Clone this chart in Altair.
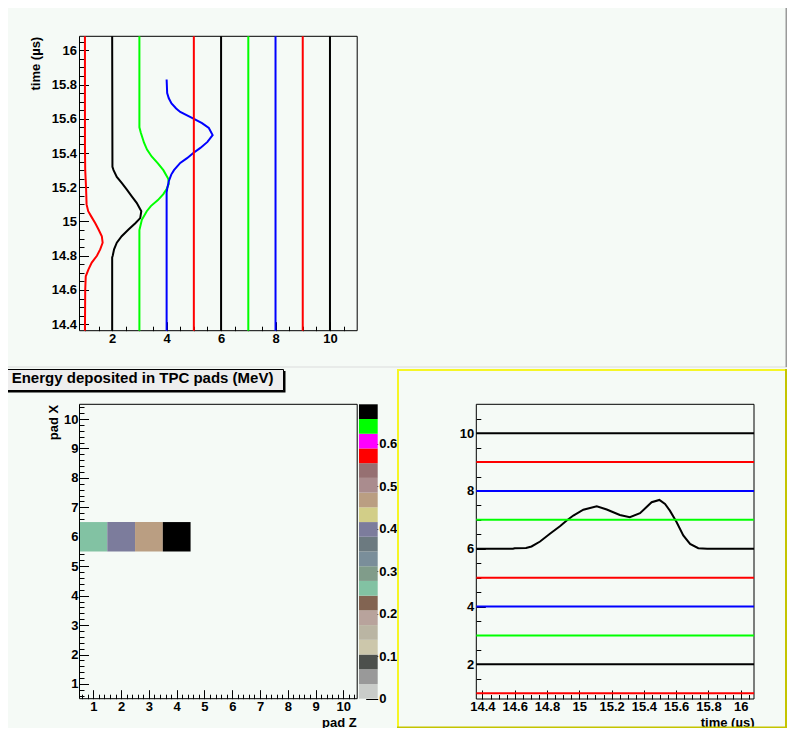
import altair as alt
import pandas as pd

W, H = 779, 720          # drawing size; with the 8 px page margin it fills the window exactly
M = 8                    # reference pixel -> chart pixel shift
FONT = "Liberation Sans"
BG = "#f5faf6"
FS = 13

# ---------------- values ----------------
PADS = [1, 2, 3, 4, 5, 6, 7, 8, 9, 10]
PAD_COLORS = ["#ff0000", "#000000", "#00ff00", "#0000ff", "#ff0000",
              "#000000", "#00ff00", "#0000ff", "#ff0000", "#000000"]
T_LIMITS = [14.362, 16.082]
PAD_LIMITS = [0.8, 11.0]

# upper panel: pad signals (time, pad + amplitude)
P1_T = [14.362, 14.60, 14.68, 14.72, 14.76, 14.80, 14.837, 14.876, 14.914, 14.953,
        14.99, 15.03, 15.06, 15.10, 15.20, 15.30, 15.45, 16.082]
P1_V = [1.0, 1.01, 1.03, 1.13, 1.25, 1.44, 1.56, 1.65, 1.62, 1.5,
        1.38, 1.23, 1.12, 1.06, 1.04, 1.01, 1.0, 1.0]
P2_T = [14.362, 14.79, 14.80, 14.837, 14.876, 14.914, 14.953, 14.99, 15.02, 15.06,
        15.109, 15.147, 15.186, 15.225, 15.26, 15.30, 15.32, 16.082]
P2_V = [2.0, 2.0, 2.02, 2.07, 2.17, 2.35, 2.6, 2.85, 3.03, 3.07,
        2.9, 2.72, 2.54, 2.35, 2.17, 2.05, 2.01, 2.0]
P3_T = [14.362, 14.95, 15.01, 15.06, 15.09, 15.125, 15.16, 15.19, 15.22, 15.25,
        15.30, 15.34, 15.38, 15.42, 15.46, 15.52, 15.55, 16.082]
P3_V = [3.0, 3.0, 3.09, 3.27, 3.42, 3.68, 3.88, 4.0, 4.08, 4.06,
        3.88, 3.68, 3.45, 3.28, 3.17, 3.05, 3.0, 3.0]
P4_T = [14.362, 15.17, 15.19, 15.235, 15.274, 15.30, 15.342, 15.37, 15.40, 15.43,
        15.465, 15.505, 15.546, 15.575, 15.604, 15.64, 15.66, 15.69, 15.72, 15.75, 15.83]
P4_V = [4.0, 4.0, 4.02, 4.08, 4.17, 4.27, 4.5, 4.75, 4.98, 5.24,
        5.5, 5.69, 5.55, 5.3, 4.95, 4.5, 4.35, 4.18, 4.08, 4.02, 4.0]

# lower right panel: row 6 signal (time, pad + amplitude)
R6_T = [14.362, 14.589, 14.60, 14.670, 14.704, 14.757, 14.818, 14.880, 14.922, 14.963,
        15.025, 15.108, 15.170, 15.251, 15.313, 15.376, 15.448, 15.496, 15.531, 15.561,
        15.603, 15.644, 15.686, 15.737, 15.792, 16.082]
R6_V = [6.0, 6.0, 6.02, 6.03, 6.08, 6.25, 6.52, 6.78, 6.98, 7.15,
        7.35, 7.47, 7.36, 7.17, 7.09, 7.23, 7.61, 7.69, 7.55, 7.32,
        6.92, 6.46, 6.17, 6.02, 6.0, 6.0]

# energy map
HM_PADZ = [1, 2, 3, 4]
HM_PADX = [6, 6, 6, 6]
HM_E = [0.26, 0.40, 0.47, 0.693]
Z_MAX = 0.693
PALETTE = ["#c9ccc9", "#999999", "#4c504c", "#ccc7ab", "#bab5a3", "#b8a39c", "#826452",
           "#82c2a3", "#809c8a", "#7a8e9a", "#6c7a80", "#7c7c9c", "#d2ce88", "#ba9e82",
           "#aa8c8e", "#967072", "#ff0000", "#ff00ff", "#00ff00", "#000000"]

# axis tick values
T_MAJOR = [14.4, 14.6, 14.8, 15.0, 15.2, 15.4, 15.6, 15.8, 16.0]
T_MINOR = [round(14.4 + 0.05 * k, 2) for k in range(34) if k % 4]
PAD_MAJOR = [2, 4, 6, 8, 10]
PAD_MINOR = [1 + 0.5 * k for k in range(20) if (1 + 0.5 * k) not in PAD_MAJOR]
HM_MAJOR = [1, 2, 3, 4, 5, 6, 7, 8, 9, 10]
HM_MINOR = [round(0.6 + 0.2 * k, 1) for k in range(50) if k % 5 != 2]
CB_TICKS = [0, 0.1, 0.2, 0.3, 0.4, 0.5, 0.6]

# ---------------- layout (reference pixels) ----------------
A_X0, A_X1, A_YT, A_YB = 79.5, 357.2, 36.3, 330.7
B_X0, B_X1, B_YT, B_YB = 79.5, 357.2, 404.3, 698.7
CB_X0, CB_X1 = 359.0, 377.7
C_X0, C_X1, C_YT, C_YB = 476.3, 754.0, 404.3, 699.0


def sx(x0, x1, dom):
    return alt.Scale(domain=dom, range=[x0 - M, x1 - M], nice=False, zero=False)


def sy(yb, yt, dom):
    return alt.Scale(domain=dom, range=[yb - M, yt - M], nice=False, zero=False)


LBL = dict(labelFont=FONT, labelFontSize=FS, labelFontWeight="bold", labelColor="black",
           labelFlush=False, labelOverlap=False, format="~f")
TTL = dict(titleFont=FONT, titleFontSize=FS, titleFontWeight="bold", titleColor="black")


def left_axis(xref, values, tick, labels, title=None, tx=0, ty=0, gap=2.5):
    kw = dict(orient="right", offset=(xref - M) - W, values=values, tickSize=tick,
              tickColor="black", tickWidth=1, domain=False, grid=False, labels=labels)
    if labels:
        kw.update(LBL, labelAlign="right", labelBaseline="middle", labelPadding=-(tick + gap))
    if title:
        kw.update(TTL, title=title, titleAngle=270, titleAlign="right",
                  titleBaseline="middle", titleX=tx, titleY=ty)
    else:
        kw["title"] = None
    return alt.Axis(**kw)


def bottom_axis(yref, values, tick, labels, title=None, tx=0, ty=0, base=12):
    kw = dict(orient="top", offset=-(yref - M), values=values, tickSize=tick,
              tickColor="black", tickWidth=1, domain=False, grid=False, labels=labels)
    if labels:
        # label baseline sits `base` px below the frame edge
        kw.update(LBL, labelAlign="center", labelBaseline="alphabetic",
                  labelPadding=-(tick + base))
    if title:
        kw.update(TTL, title=title, titleAngle=0, titleAlign="right",
                  titleBaseline="alphabetic", titleX=tx, titleY=ty)
    else:
        kw["title"] = None
    return alt.Axis(**kw)


# ---------------- tables ----------------
rows_a = []
sig = {1: (P1_T, P1_V), 2: (P2_T, P2_V), 3: (P3_T, P3_V), 4: (P4_T, P4_V)}
for p, c in zip(PADS, PAD_COLORS):
    ts, vs = sig.get(p, (T_LIMITS, [p, p]))
    for i, (t, v) in enumerate(zip(ts, vs)):
        rows_a.append(dict(pad=p, i=i, t=t, v=v, c=c))
df_a = pd.DataFrame(rows_a)

rows_c = []
for p, c in zip(PADS, PAD_COLORS):
    ts, vs = (R6_T, R6_V) if p == 6 else (T_LIMITS, [p, p])
    for i, (t, v) in enumerate(zip(ts, vs)):
        rows_c.append(dict(pad=p, i=i, t=t, v=v, c=c))
df_c = pd.DataFrame(rows_c)

df_hm = pd.DataFrame(dict(z=HM_PADZ, x=HM_PADX, e=HM_E))
df_hm["z0"] = df_hm.z - 0.5
df_hm["z1"] = df_hm.z + 0.5
df_hm["x0"] = df_hm.x - 0.5
df_hm["x1"] = df_hm.x + 0.5

n = len(PALETTE)
df_cb = pd.DataFrame(dict(lo=[Z_MAX * k / n for k in range(n)],
                          hi=[Z_MAX * (k + 1) / n for k in range(n)]))
df_cb["mid"] = (df_cb.lo + df_cb.hi) / 2
df_cb["c0"] = 0
df_cb["c1"] = 1

frame_a = pd.DataFrame(dict(x0=[PAD_LIMITS[0]], x1=[PAD_LIMITS[1]], y0=[T_LIMITS[0]], y1=[T_LIMITS[1]]))
frame_b = pd.DataFrame(dict(x0=[0.5], x1=[10.5], y0=[0.5], y1=[10.5]))
frame_c = pd.DataFrame(dict(x0=[T_LIMITS[0]], x1=[T_LIMITS[1]], y0=[PAD_LIMITS[0]], y1=[PAD_LIMITS[1]]))

one = pd.DataFrame(dict(k=[0]))

# ---------------- scales ----------------
A_XS = sx(A_X0, A_X1, PAD_LIMITS)
A_YS = sy(A_YB, A_YT, T_LIMITS)
B_XS = sx(B_X0, B_X1, [0.5, 10.5])
B_YS = sy(B_YB, B_YT, [0.5, 10.5])
CB_XS = sx(CB_X0, CB_X1, [0, 1])
CB_YS = sy(B_YB, B_YT, [0, Z_MAX])
C_XS = sx(C_X0, C_X1, T_LIMITS)
C_YS = sy(C_YB, C_YT, PAD_LIMITS)
COL = alt.Scale(type="quantize", domain=[0, Z_MAX], range=PALETTE)


def box(x0, x1, y0, y1, **mk):
    return alt.Chart(one).mark_rect(**mk).encode(
        x=alt.value(x0 - M), x2=alt.value(x1 - M), y=alt.value(y0 - M), y2=alt.value(y1 - M))


RIGHT = W + M      # last visible reference column
BOTTOM = H + M     # last visible reference row

layers = []
# pad borders
layers.append(box(0, RIGHT, 366.5, 367.5, color="#dcdcdc"))
layers.append(box(RIGHT - 1.5, RIGHT, 0, 367, color="#9a9a9a"))
# selected pad (yellow bevel)
layers.append(box(397, RIGHT, 369, 371, color="#f6f626"))
layers.append(box(397, 399, 369, BOTTOM, color="#f6f626"))
layers.append(box(RIGHT - 2, RIGHT, 369, BOTTOM, color="#c4c400"))
layers.append(box(397, RIGHT, BOTTOM - 1.5, BOTTOM, color="#c4c400"))
# title box
layers.append(box(5, 285.5, 371, 392.5, color="#000000"))
layers.append(box(3.5, 283.5, 369.5, 390.5, fill="#eeeeee", stroke="#000000", strokeWidth=1))
layers.append(alt.Chart(one).mark_text(
    text="Energy deposited in TPC pads (MeV)", font=FONT, fontSize=15, fontWeight="bold",
    align="left", baseline="alphabetic", color="black").encode(
    x=alt.value(11.7 - M), y=alt.value(382.5 - M)))

FRAME = dict(fillOpacity=0, stroke="black", strokeWidth=1)

# ---- panel A: pad signals vs time ----
layers.append(alt.Chart(frame_a).mark_rect(**FRAME).encode(
    x=alt.X("x0:Q", scale=A_XS, axis=bottom_axis(A_YB, PAD_MINOR, 4.5, False)), x2="x1:Q",
    y=alt.Y("y0:Q", scale=A_YS, axis=left_axis(A_X0, T_MINOR, 4.5, False)), y2="y1:Q"))
layers.append(alt.Chart(df_a).mark_line(strokeWidth=2).encode(
    x=alt.X("v:Q", scale=A_XS, axis=bottom_axis(A_YB, PAD_MAJOR, 9, True, base=11.6)),
    y=alt.Y("t:Q", scale=A_YS, axis=left_axis(A_X0, T_MAJOR, 9, True, "time (µs)",
                                               35 - A_X0, A_YT - M, gap=3)),
    color=alt.Color("c:N", scale=None), detail="pad:N", order="i:Q"))

# ---- panel B: energy map ----
layers.append(alt.Chart(df_hm).mark_rect().encode(
    x=alt.X("z0:Q", scale=B_XS, axis=bottom_axis(B_YB, HM_MAJOR, 9, True, "pad Z",
                                                 B_X1 - M - 1, 726 - B_YB, base=11.8)),
    x2="z1:Q",
    y=alt.Y("x0:Q", scale=B_YS, axis=left_axis(B_X0, HM_MAJOR, 9, True, "pad X",
                                               53.3 - B_X0, B_YT - M, gap=1.5)), y2="x1:Q",
    color=alt.Color("e:Q", scale=COL, legend=None)))
layers.append(alt.Chart(frame_b).mark_rect(**FRAME).encode(
    x=alt.X("x0:Q", scale=B_XS, axis=bottom_axis(B_YB, HM_MINOR, 4.5, False)), x2="x1:Q",
    y=alt.Y("y0:Q", scale=B_YS, axis=left_axis(B_X0, HM_MINOR, 4.5, False)), y2="y1:Q"))
# palette
layers.append(alt.Chart(df_cb).mark_rect().encode(
    x=alt.X("c0:Q", scale=CB_XS, axis=None), x2="c1:Q",
    y=alt.Y("lo:Q", scale=CB_YS, axis=alt.Axis(
        orient="left", offset=-(CB_X1 - M), values=CB_TICKS, tickSize=12, tickColor="black",
        domain=False, grid=False, title=None, labelAlign="left", labelBaseline="middle",
        labelPadding=-13, **LBL)), y2="hi:Q",
    color=alt.Color("mid:Q", scale=COL, legend=None)))

# ---- panel C: signals vs time per row ----
layers.append(alt.Chart(frame_c).mark_rect(**FRAME).encode(
    x=alt.X("x0:Q", scale=C_XS, axis=bottom_axis(C_YB, T_MINOR, 4.5, False)), x2="x1:Q",
    y=alt.Y("y0:Q", scale=C_YS, axis=left_axis(C_X0, PAD_MINOR, 4.5, False)), y2="y1:Q"))
layers.append(alt.Chart(df_c).mark_line(strokeWidth=2).encode(
    x=alt.X("t:Q", scale=C_XS, axis=bottom_axis(C_YB, T_MAJOR, 9, True, "time (µs)",
                                                C_X1 - M, 726 - C_YB, base=11.6)),
    y=alt.Y("v:Q", scale=C_YS, axis=left_axis(C_X0, PAD_MAJOR, 9, True, gap=2.5)),
    color=alt.Color("c:N", scale=None), detail="pad:N", order="i:Q"))

chart = alt.layer(*layers).resolve_scale(
    x="independent", y="independent", color="independent"
).resolve_axis(x="independent", y="independent").properties(
    width=W, height=H, padding=0, background=BG,
    autosize=alt.AutoSizeParams(type="none")
).configure_view(stroke=None)

chart.save("out.html", embed_options={"renderer": "svg", "actions": False})
